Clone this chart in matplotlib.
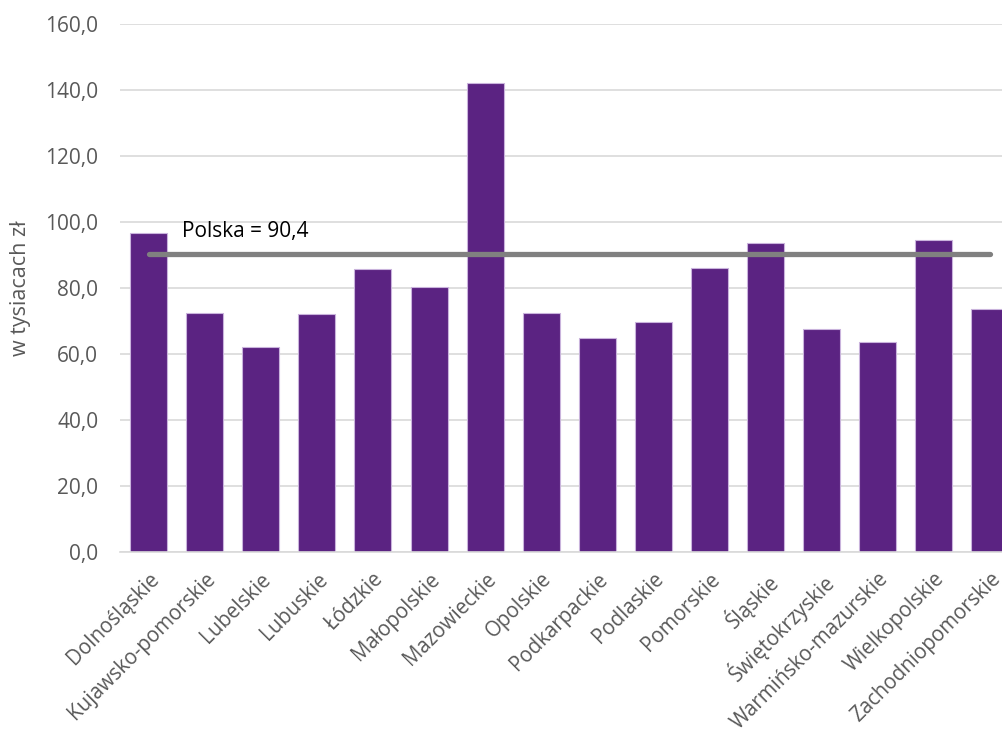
import matplotlib
matplotlib.use('Agg')
import matplotlib.pyplot as plt
import numpy as np

wojewodztwa = ['Dolnośląskie', 'Kujawsko-pomorskie', 'Lubelskie', 'Lubuskie', 'Łódzkie',
               'Małopolskie', 'Mazowieckie', 'Opolskie', 'Podkarpackie', 'Podlaskie',
               'Pomorskie', 'Śląskie', 'Świętokrzyskie', 'Warmińsko-mazurskie',
               'Wielkopolskie', 'Zachodniopomorskie']
wartosci = [96.7, 72.5, 62.1, 72.1, 85.7, 80.3, 142.1, 72.5, 64.8, 69.7,
            86.2, 93.5, 67.6, 63.5, 94.4, 73.7]
polska = 90.4
y_ticks = [0, 20, 40, 60, 80, 100, 120, 140, 160]

plt.rcParams['font.family'] = ['Open Sans', 'DejaVu Sans']

fig = plt.figure(figsize=(10.03, 7.34), dpi=100)
W, H = 1003, 734
left, right = 120.5, 1018
top, bottom = 24, 552
ax = fig.add_axes([left / W, (H - bottom) / H, (right - left) / W, (bottom - top) / H])

x = np.arange(len(wojewodztwa))
ax.bar(x, wartosci, width=0.66, color='#5B2382', edgecolor='#c9b3dc', linewidth=0.8, zorder=2)
ax.plot(x, [polska] * len(x), color='#808080', lw=3.8, solid_capstyle='round', zorder=3)
ax.text(0.6, 97, 'Polska = 90,4', fontsize=15, color='black', ha='left', va='center')

ax.set_xlim(-0.5, len(x) - 0.5)
ax.set_ylim(0, 160)
ax.set_yticks(y_ticks)
ax.set_yticklabels([f'{v:.1f}'.replace('.', ',') for v in y_ticks], fontsize=15, color='#595959')
ax.set_xticks(x)
ax.set_xticklabels(wojewodztwa, rotation=45, ha='right', rotation_mode='anchor',
                   fontsize=14.8, color='#595959')
ax.tick_params(axis='both', length=0)
ax.tick_params(axis='y', pad=16)
ax.tick_params(axis='x', pad=12)
ax.grid(axis='y', color='#d9d9d9', lw=1.2, zorder=0)
for s in ['top', 'right', 'left']:
    ax.spines[s].set_visible(False)
ax.spines['bottom'].set_color('#d9d9d9')
ax.spines['bottom'].set_linewidth(1.2)
ax.set_ylabel('w tysiacach zł', fontsize=15.5, color='#595959', labelpad=10)

fig.savefig('out.png', dpi=100)
